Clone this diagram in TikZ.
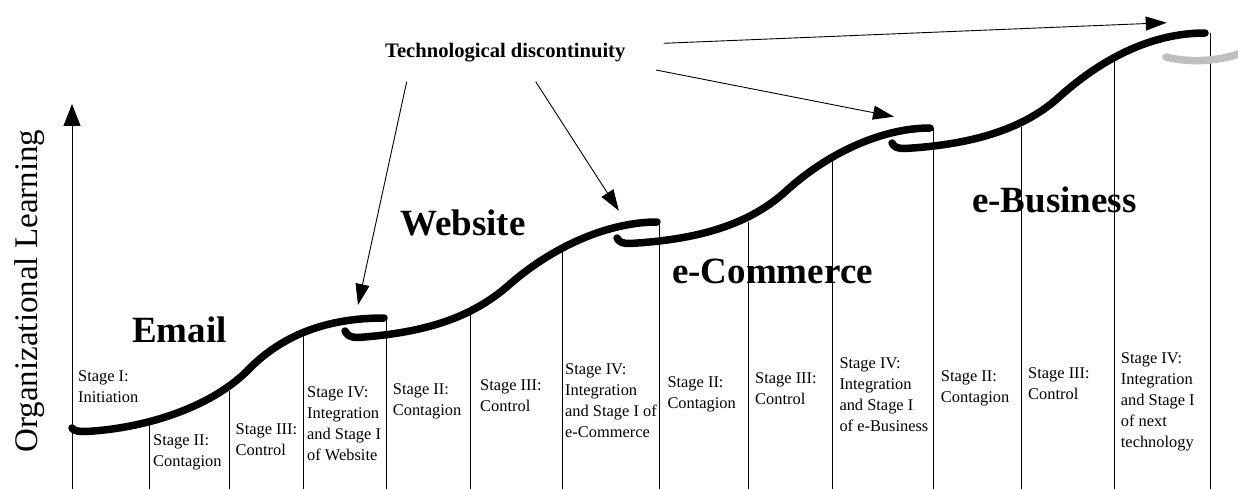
\documentclass[tikz,border=0pt]{standalone}
\usepackage{fontspec}
\setmainfont{Liberation Serif}
\usepackage{tikz}
\usetikzlibrary{arrows.meta}

\tikzset{
  learn/.style={line width=7.5pt, line cap=round, line join=round},
  stage/.style={anchor=north west, align=left, inner sep=0pt, font=\fontsize{16.4}{21}\selectfont},
  era/.style={anchor=base west, inner sep=0pt, font=\fontsize{37}{40}\selectfont\bfseries},
  jump/.style={line width=0.9pt, -{Triangle[length=21pt,width=14pt]}}
}

\begin{document}
\begin{tikzpicture}[x=1pt,y=-1pt]
\useasboundingbox (0,0) rectangle (1238,489);

% axis
\draw[line width=1pt, -{Triangle[length=22pt,width=17pt]}] (72,489) -- (72,104);
\node[rotate=90, anchor=base, inner sep=0pt, font=\fontsize{33}{36}\selectfont] (axislabel) at (37,291) {Organizational Learning};

% stage separators
\foreach \x/\y in {149/425, 229/391, 303/335, 386/318, 470/315, 562/248, 659/223,
                   748/222, 832/156, 933/128, 1021/127, 1114/58, 1210/33}
  \draw[line width=1pt] (\x,\y) -- (\x,489);

% learning curves
\draw[learn] (72,428) .. controls (74,431) and (78,431.5) .. (86,431.5)
  .. controls (150,428) and (215,405) .. (250,368)
  .. controls (290,328) and (340,318) .. (384,318);
\draw[learn] (345,331) .. controls (347,335) and (350,337.5) .. (358,337.5)
  .. controls (420,333) and (470,320) .. (510,284)
  .. controls (555,245) and (610,222) .. (657,222);
\draw[learn] (617,238) .. controls (619,242) and (622,243.5) .. (630,243.5)
  .. controls (690,240) and (745,228) .. (785,192)
  .. controls (825,155) and (880,128) .. (930,128);
\draw[learn] (892,143) .. controls (894,147) and (897,148.5) .. (905,148.5)
  .. controls (965,145) and (1020,132) .. (1058,98)
  .. controls (1100,60) and (1150,33) .. (1205,33);
\draw[learn, color=black!25] (1166,57) .. controls (1185,62) and (1215,63) .. (1245,52);

% eras
\node[era] (email) at (132,342) {Email};
\node[era] (website) at (400,235) {Website};
\node[era] (ecommerce) at (672,283) {e-Commerce};
\node[era] (ebusiness) at (972,212) {e-Business};

% discontinuities
\node[anchor=base west, inner sep=0pt, font=\fontsize{20.6}{24}\selectfont\bfseries] (disc) at (385,58) {Technological discontinuity};
\coordinate (s1) at (406.7,81.7);
\coordinate (s2) at (535.7,81.7);
\coordinate (s3) at (656,70);
\coordinate (s4) at (663.6,43.3);
\coordinate (t1) at (358,305);
\coordinate (t2) at (618.8,210.7);
\coordinate (t3) at (894,116.7);
\coordinate (t4) at (1166.7,22.7);
\draw[jump] (s1) -- (t1);
\draw[jump] (s2) -- (t2);
\draw[jump] (s3) -- (t3);
\draw[jump] (s4) -- (t4);

% stages
\node[stage] (e1) at (78,370.6) {Stage I:\\Initiation};
\node[stage] (e2) at (153,434.9) {Stage II:\\Contagion};
\node[stage] (e3) at (235.5,423.9) {Stage III:\\Control};
\node[stage] (e4) at (307,386.9) {Stage IV:\\Integration\\and Stage I\\of Website};
\node[stage] (w2) at (392.7,383.9) {Stage II:\\Contagion};
\node[stage] (w3) at (480,379.6) {Stage III:\\Control};
\node[stage] (w4) at (565,363.9) {Stage IV:\\Integration\\and Stage I of\\e-Commerce};
\node[stage] (c2) at (667.3,376.2) {Stage II:\\Contagion};
\node[stage] (c3) at (755,372.2) {Stage III:\\Control};
\node[stage] (c4) at (839.3,357.2) {Stage IV:\\Integration\\and Stage I\\of e-Business};
\node[stage] (b2) at (940.7,370.6) {Stage II:\\Contagion};
\node[stage] (b3) at (1028,367.2) {Stage III:\\Control};
\node[stage] (b4) at (1120.7,352.2) {Stage IV:\\Integration\\and Stage I\\of next\\technology};

\end{tikzpicture}
\end{document}
